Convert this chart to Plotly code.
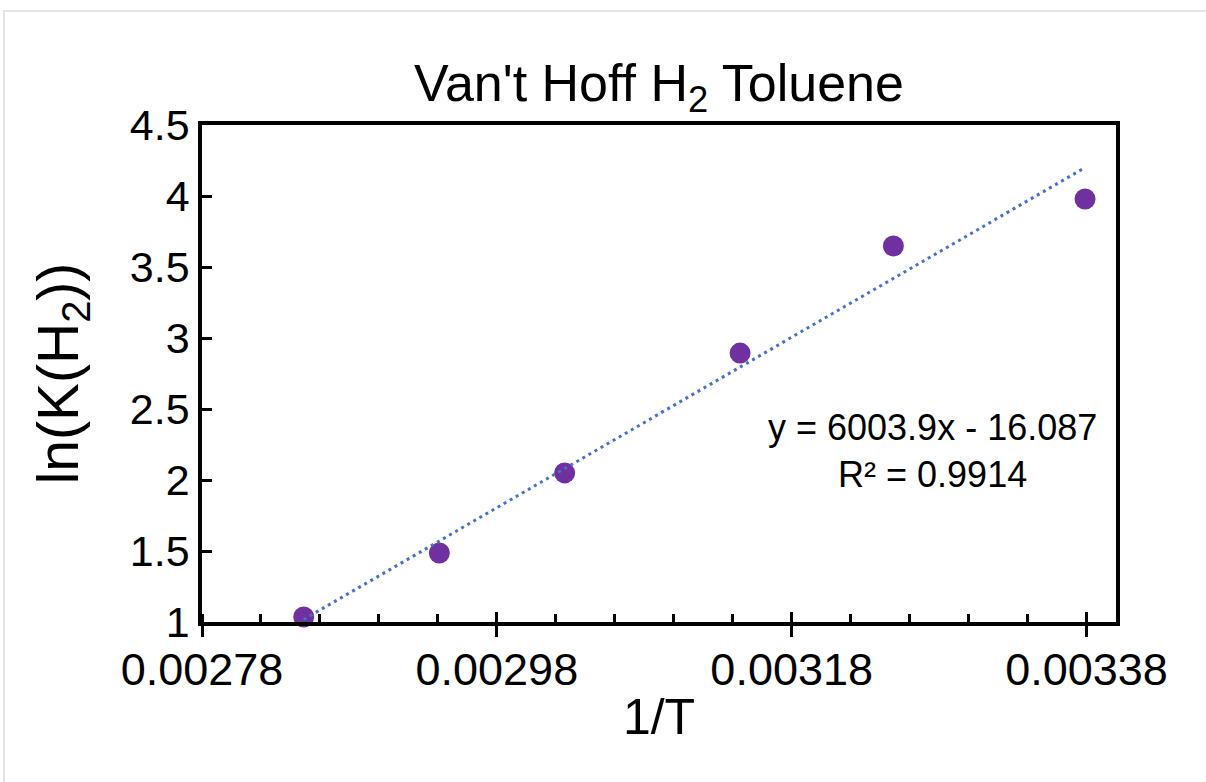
import plotly.graph_objects as go

# Data
inv_T = [0.002849, 0.002941, 0.003026, 0.003145, 0.003249, 0.003379]
lnK = [1.035, 1.486, 2.05, 2.894, 3.648, 3.979]

slope = 6003.9
intercept = -16.087
r2 = 0.9914

x_tickvals = [0.00278, 0.00298, 0.00318, 0.00338]
x_ticktext = ["0.00278", "0.00298", "0.00318", "0.00338"]
y_tickvals = [1, 1.5, 2, 2.5, 3, 3.5, 4, 4.5]
y_ticktext = ["1", "1.5", "2", "2.5", "3", "3.5", "4", "4.5"]

FONT = "Liberation Sans, Arial, Helvetica, sans-serif"

trend_x = [min(inv_T), max(inv_T)]
trend_y = [slope * v + intercept for v in trend_x]

fig = go.Figure()
fig.add_trace(go.Scatter(
    x=inv_T, y=lnK, mode="markers",
    marker=dict(color="#7030A0", size=21, line=dict(width=0)),
    cliponaxis=False, showlegend=False,
))
fig.add_trace(go.Scatter(
    x=trend_x, y=trend_y, mode="lines",
    line=dict(color="#4472C4", width=3, dash="3px,4px"),
    cliponaxis=False, showlegend=False,
))
# overlay axis for the inside half of the major x ticks
fig.add_trace(go.Scatter(x=[None], y=[None], xaxis="x2", showlegend=False, hoverinfo="skip"))

L, R, T, B = 202, 90, 125, 160
W, H = 1206, 782
pw, ph = W - L - R, H - T - B

def px(xp):
    return (xp - L) / pw

def py(yp):
    return (H - B - yp) / ph

xr = [0.00278, 0.0034]

fig.update_layout(
    width=W, height=H,
    margin=dict(l=L, r=R, t=T, b=B, pad=0),
    paper_bgcolor="white", plot_bgcolor="white",
    font=dict(family=FONT, color="black"),
    title=dict(
        text="Van't Hoff H<sub>2</sub> Toluene",
        font=dict(size=52, family=FONT, color="black"),
        x=0.5, xref="paper", xanchor="center",
        y=1 - 83 / H, yref="container", yanchor="middle",
    ),
    xaxis=dict(
        range=xr, tickvals=x_tickvals, ticktext=x_ticktext,
        ticks="outside", ticklen=11, tickwidth=3, tickcolor="black",
        tickfont=dict(size=45, family=FONT, color="black"),
        ticklabelstandoff=-6,
        showline=True, linecolor="black", linewidth=3.5, mirror=True,
        showgrid=False, zeroline=False,
        minor=dict(dtick=0.00004, tick0=0.00278, ticks="inside", ticklen=8,
                   tickwidth=3, tickcolor="black", showgrid=False),
        title=dict(text="1/T", font=dict(size=50, family=FONT, color="black"), standoff=6),
    ),
    xaxis2=dict(
        range=xr, overlaying="x", matches="x", tickvals=x_tickvals,
        ticks="inside", ticklen=10, tickwidth=3, tickcolor="black",
        showticklabels=False, showline=False, showgrid=False, zeroline=False,
    ),
    yaxis=dict(
        range=[1, 4.5], tickvals=y_tickvals, ticktext=y_ticktext,
        ticks="inside", ticklen=10, tickwidth=3, tickcolor="black",
        tickfont=dict(size=43, family=FONT, color="black"),
        showline=True, linecolor="black", linewidth=3.5, mirror=True,
        showgrid=False, zeroline=False,
        title=dict(text="ln(K(H<sub>2</sub>))", font=dict(size=57, family=FONT, color="black"), standoff=34),
    ),
    annotations=[dict(
        text=f"y = {slope}x - {abs(intercept)}<br>R² = {r2}",
        xref="paper", yref="paper", x=px(932), y=py(451),
        xanchor="center", yanchor="middle", align="center", showarrow=False,
        font=dict(size=36, family=FONT, color="black"),
    )],
    shapes=[dict(
        type="rect", xref="paper", yref="paper", layer="below",
        x0=px(4), x1=px(1230), y0=py(800), y1=py(11),
        line=dict(color="#e4e4e4", width=2), fillcolor="rgba(0,0,0,0)",
    )],
)

fig.write_html("out.html")
